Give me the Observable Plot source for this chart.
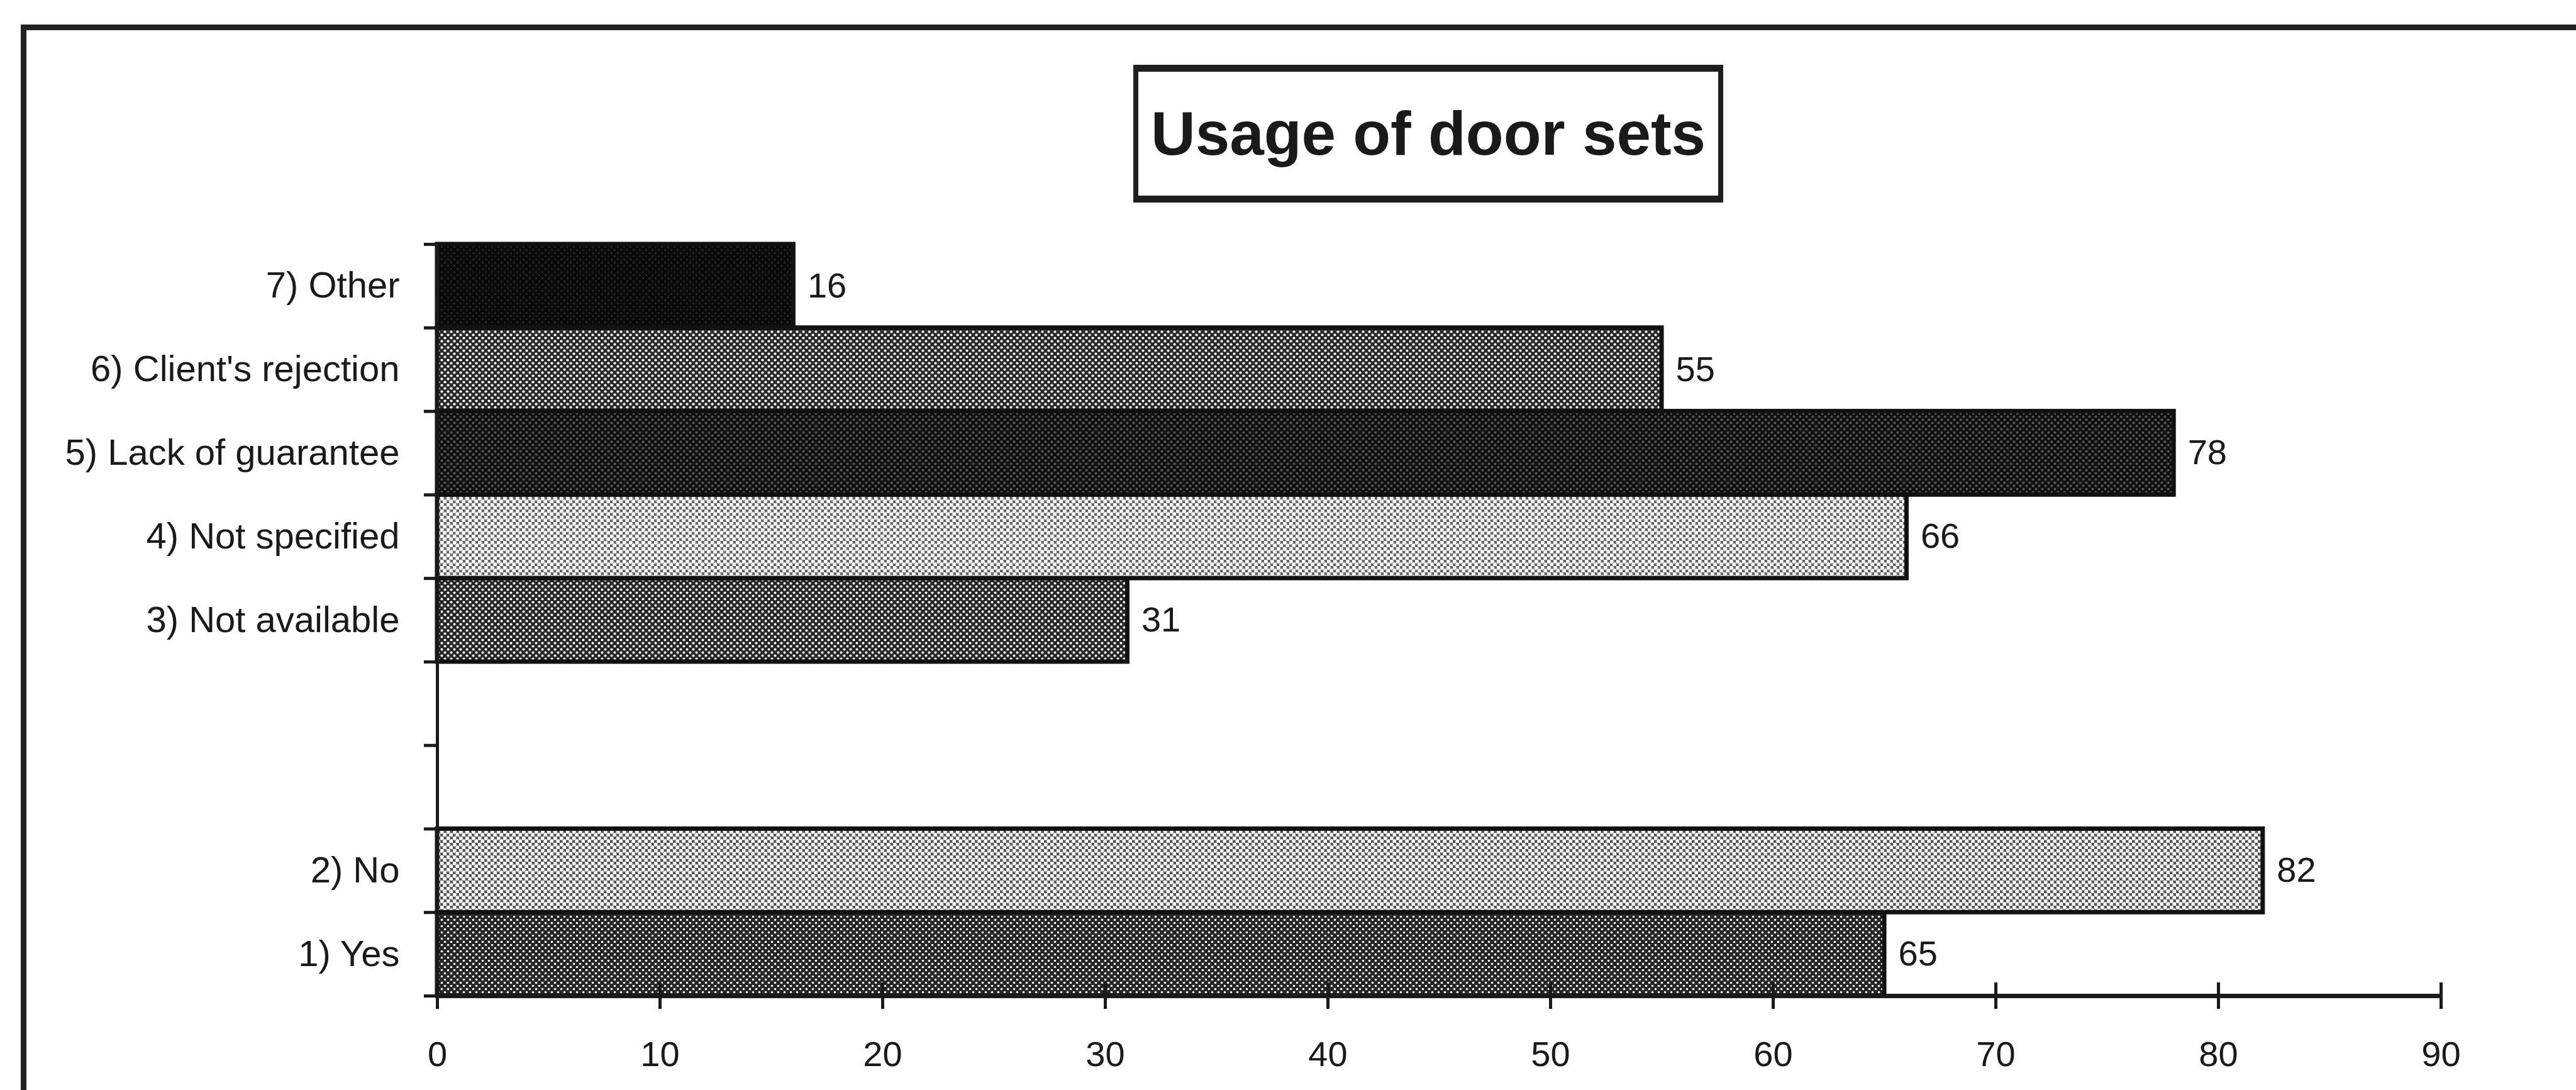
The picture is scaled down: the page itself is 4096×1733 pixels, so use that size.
<!DOCTYPE html>
<html>
<head>
<meta charset="utf-8">
<script src="https://cdn.jsdelivr.net/npm/d3@7"></script>
<script src="https://cdn.jsdelivr.net/npm/@observablehq/plot@0.6"></script>
<style>
  html, body { margin: 0; padding: 0; background: #fff; }
  #wrap { position: relative; width: 4096px; height: 1733px; overflow: hidden; }
  #wrap svg { display: block; max-width: none !important; }
  #title {
    position: absolute; left: 1802px; top: 103px; width: 938px; height: 219px;
    box-sizing: border-box; border-style: solid; border-color: #1e1e1e;
    border-width: 11px 8px 11px 8px; background: #fff;
    display: flex; align-items: center; justify-content: center;
    font-family: "Liberation Sans", Arial, sans-serif; font-weight: bold;
    font-size: 98px; color: #1a1a1a; white-space: nowrap;
  }
</style>
</head>
<body>
<div id="wrap"></div>
<script>
// ---- data ----
const categories = ["1) Yes", "2) No", "", "", "3) Not available", "4) Not specified",
                    "5) Lack of guarantee", "6) Client's rejection", "7) Other"];
const values = [65, 82, null, null, 31, 66, 78, 55, 16];
const xTicks = [0, 10, 20, 30, 40, 50, 60, 70, 80, 90];
const titleText = "Usage of door sets";

// ---- styles (bar textures) ----
const textures = {
  "1) Yes":               {base: "#262626", dot: "#ffffff", r: 1.8},
  "2) No":                {base: "#555555", dot: "#ffffff", r: 3.2},
  "3) Not available":     {base: "#282828", dot: "#ffffff", r: 2.0},
  "4) Not specified":     {base: "#666666", dot: "#ffffff", r: 3.3},
  "5) Lack of guarantee": {base: "#101010", dot: "#5a5a5a", r: 2.0},
  "6) Client's rejection":{base: "#2a2a2a", dot: "#ffffff", r: 2.1},
  "7) Other":             {base: "#0a0a0a", dot: "#2e2e2e", r: 1.5}
};
const patId = c => "pat-" + categories.indexOf(c);

const slots = categories.map((c, i) => ({category: c, slot: i, value: values[i]}));
const rows = slots.filter(d => d.value != null);
const bounds = d3.range(categories.length + 1);

const W = 4096, H = 1733;
const font = "Liberation Sans, Arial, sans-serif";

const chart = Plot.plot({
  width: W,
  height: H,
  marginLeft: 695,
  marginRight: 215,
  marginTop: 388,
  marginBottom: 150,
  style: {fontFamily: font, background: "transparent", color: "#1a1a1a", overflow: "visible"},
  x: {domain: [0, 90], label: null},
  y: {domain: [0, categories.length], label: null},
  color: {type: "identity"},
  marks: [
    // outer frame of the figure
    Plot.frame({stroke: "#222", strokeWidth: 9, insetLeft: -658, insetTop: -345, insetRight: -400, insetBottom: -400}),
    // bars
    Plot.rect(rows, {
      x1: 0, x2: "value", y1: "slot", y2: d => d.slot + 1,
      fill: d => `url(#${patId(d.category)})`,
      stroke: "#111", strokeWidth: 7
    }),
    // value labels
    Plot.text(rows, {
      x: "value", y: d => d.slot + 0.5, text: d => String(d.value),
      textAnchor: "start", dx: 22, fontSize: 56, fill: "#1a1a1a"
    }),
    // y axis line
    Plot.ruleX([0], {y1: 0, y2: categories.length, stroke: "#1a1a1a", strokeWidth: 5}),
    // y axis ticks at category boundaries
    Plot.axisY(bounds, {tickSize: 21, tickFormat: () => "", label: null, strokeWidth: 5, stroke: "#1a1a1a"}),
    // y axis category labels
    Plot.axisY(rows.map(d => d.slot + 0.5), {
      tickSize: 0, tickPadding: 60, fontSize: 58, fill: "#1a1a1a", label: null,
      tickFormat: v => categories[Math.floor(v)]
    }),
    // x axis line
    Plot.ruleY([0], {x1: 0, x2: 90, stroke: "#1a1a1a", strokeWidth: 7}),
    // x axis ticks crossing the axis line
    Plot.ruleX(xTicks, {x: d => d, y1: 0, y2: 0, insetTop: -21, insetBottom: -21, stroke: "#1a1a1a", strokeWidth: 5}),
    // x axis labels
    Plot.axisX(xTicks, {tickSize: 0, tickPadding: 72, fontSize: 56, fill: "#1a1a1a", label: null})
  ]
});

// texture definitions
const svg = d3.select(chart);
const defs = svg.insert("defs", ":first-child");
for (const c of Object.keys(textures)) {
  const t = textures[c];
  const p = defs.append("pattern").attr("id", patId(c))
    .attr("width", 10).attr("height", 10).attr("patternUnits", "userSpaceOnUse");
  p.append("rect").attr("width", 10).attr("height", 10).attr("fill", t.base);
  p.append("circle").attr("cx", 2.5).attr("cy", 2.5).attr("r", t.r).attr("fill", t.dot);
  p.append("circle").attr("cx", 7.5).attr("cy", 7.5).attr("r", t.r).attr("fill", t.dot);
}

const wrap = document.getElementById("wrap");
wrap.appendChild(chart);
const title = document.createElement("div");
title.id = "title";
title.textContent = titleText;
wrap.appendChild(title);
</script>
</body>
</html>
